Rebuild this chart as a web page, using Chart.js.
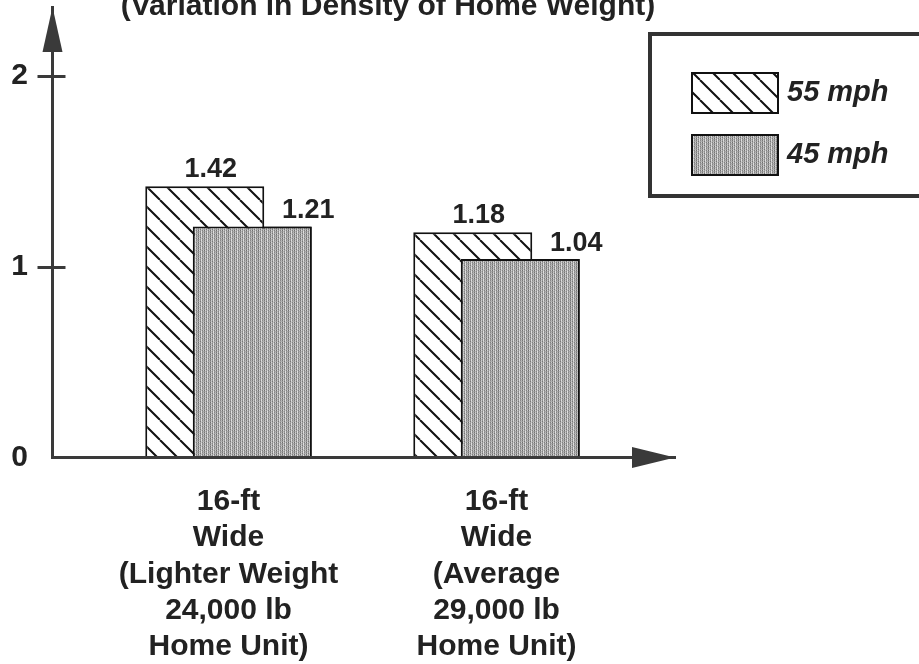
<!DOCTYPE html>
<html>
<head>
<meta charset="utf-8">
<script src="https://cdn.jsdelivr.net/npm/chart.js@4.4.1/dist/chart.umd.min.js"></script>
<style>
  html, body { margin: 0; padding: 0; background: #fff; }
  #wrap { position: relative; width: 919px; height: 664px; }
</style>
</head>
<body>
<div id="wrap"><canvas id="density"></canvas></div>
<script>
// data
const categories = [
  ['16-ft', 'Wide', '(Lighter Weight', '24,000 lb', 'Home Unit)'],
  ['16-ft', 'Wide', '(Average', '29,000 lb', 'Home Unit)']
];
const seriesLabels = ['55 mph', '45 mph'];
const speed55 = [1.42, 1.18];
const speed45 = [1.21, 1.04];
const yTicks = [0, 1, 2];
const titleText = '(Variation in Density of Home Weight)';

const FONT = '"Liberation Sans", Arial, sans-serif';
const INK = '#222';
const AXIS = '#3a3a3a';

var canvas = document.getElementById('density');
var ctx = canvas.getContext('2d');

// diagonal hatch for the 55 mph bars
function makeHatch() {
  var s = 20;
  var c = document.createElement('canvas');
  c.width = s; c.height = s;
  var g = c.getContext('2d');
  g.fillStyle = '#fff';
  g.fillRect(0, 0, s, s);
  g.strokeStyle = '#111';
  g.lineWidth = 2;
  g.beginPath();
  for (var k = -1; k <= 1; k++) {
    g.moveTo(k * s, 0);
    g.lineTo(k * s + s, s);
  }
  g.stroke();
  return ctx.createPattern(c, 'repeat');
}

// grainy vertical gray for the 45 mph bars
function makeStipple() {
  var shades = [
    [120, 205, 150, 222, 135, 186],
    [152, 190, 118, 210, 166, 174],
    [110, 214, 160, 196, 128, 202],
    [142, 180, 136, 226, 150, 168]
  ];
  var c = document.createElement('canvas');
  c.width = shades[0].length; c.height = shades.length;
  var g = c.getContext('2d');
  shades.forEach(function (row, y) {
    row.forEach(function (v, x) {
      g.fillStyle = 'rgb(' + v + ',' + v + ',' + v + ')';
      g.fillRect(x, y, 1, 1);
    });
  });
  return ctx.createPattern(c, 'repeat');
}

var hatch = makeHatch();
var stipple = makeStipple();

// bar value labels: x shift and lift per series
var labelShift = [6, 56];
var labelLift = [9, 8];

var frame = {
  id: 'frame',
  afterDatasetsDraw(chart) {
    var c = chart.ctx;
    // the 45 mph bars sit in front of the 55 mph ones
    chart.getDatasetMeta(1).controller.draw();

    c.save();
    c.fillStyle = INK;
    c.font = 'bold 27px ' + FONT;
    c.textAlign = 'center';
    c.textBaseline = 'alphabetic';
    chart.data.datasets.forEach(function (ds, di) {
      chart.getDatasetMeta(di).data.forEach(function (bar, i) {
        c.fillText(ds.data[i].y.toFixed(2), bar.x + labelShift[di], bar.y - labelLift[di]);
      });
    });
    c.restore();
  },
  afterDraw(chart) {
    var c = chart.ctx;
    var area = chart.chartArea;
    var ys = chart.scales.y;
    var x0 = area.left + 0.5;
    var y0 = ys.getPixelForValue(0);

    c.save();
    c.fillStyle = AXIS;
    c.strokeStyle = AXIS;

    // y arrow
    c.beginPath();
    c.moveTo(x0, area.top);
    c.lineTo(x0 + 10, area.top + 45);
    c.lineTo(x0 - 10, area.top + 45);
    c.closePath();
    c.fill();

    // x arrow
    c.beginPath();
    c.moveTo(area.right, y0);
    c.lineTo(area.right - 43, y0 - 10.5);
    c.lineTo(area.right - 43, y0 + 10.5);
    c.closePath();
    c.fill();

    // tick crosses on the y axis
    c.lineWidth = 3;
    yTicks.filter(function (v) { return v > 0; }).forEach(function (v) {
      var py = Math.round(ys.getPixelForValue(v)) + 0.5;
      c.beginPath();
      c.moveTo(x0 - 15, py);
      c.lineTo(x0 + 13, py);
      c.stroke();
    });

    // title, cut by the top edge
    c.fillStyle = INK;
    c.font = 'bold 30px ' + FONT;
    c.textAlign = 'center';
    c.textBaseline = 'alphabetic';
    c.fillText(titleText, 388, 15);

    // legend box
    c.lineWidth = 4;
    c.strokeStyle = '#333';
    c.strokeRect(650, 34, 300, 162);
    c.font = 'italic bold 29px ' + FONT;
    c.textAlign = 'left';
    c.textBaseline = 'middle';
    chart.data.datasets.forEach(function (ds, di) {
      var top = 73 + di * 62;
      c.fillStyle = ds.backgroundColor;
      c.fillRect(692, top, 86, 40);
      c.lineWidth = 2;
      c.strokeStyle = '#111';
      c.strokeRect(692, top, 86, 40);
      c.fillStyle = INK;
      c.fillText(ds.label, 787, top + 20);
    });
    c.restore();
  }
};

var chart = new Chart(ctx, {
  type: 'bar',
  data: {
    datasets: [
      {
        label: seriesLabels[0],
        data: speed55.map(function (v, i) { return { x: i, y: v }; }),
        backgroundColor: hatch,
        borderColor: '#111',
        borderWidth: 2,
        borderSkipped: 'bottom'
      },
      {
        label: seriesLabels[1],
        data: speed45.map(function (v, i) { return { x: i, y: v }; }),
        backgroundColor: stipple,
        borderColor: '#111',
        borderWidth: 2,
        borderSkipped: 'bottom'
      }
    ]
  },
  options: {
    responsive: true,
    maintainAspectRatio: false,
    animation: false,
    devicePixelRatio: 1,
    categoryPercentage: 0.3545,
    barPercentage: 2.505,
    layout: { padding: { top: 7, right: 244, bottom: 0, left: 0 } },
    plugins: {
      legend: { display: false },
      tooltip: { enabled: false },
      title: { display: false }
    },
    scales: {
      x: {
        type: 'linear',
        offset: false,
        min: -0.6586,
        max: 1.666,
        afterBuildTicks: function (s) { s.ticks = categories.map(function (c, i) { return { value: i }; }); },
        afterFit: function (s) {
          s.height = 206.5;
          s.paddingLeft = 0;
          s.paddingRight = 0;
        },
        grid: { display: false, drawTicks: false, offset: false },
        border: { display: true, color: AXIS, width: 3, z: 1 },
        ticks: {
          padding: 26,
          color: INK,
          maxRotation: 0,
          autoSkip: false,
          font: { family: FONT, size: 30, weight: 'bold', lineHeight: 1.21 },
          callback: function (v) { return categories[v]; }
        }
      },
      y: {
        min: 0,
        max: 2.359,
        afterBuildTicks: function (s) { s.ticks = yTicks.map(function (v) { return { value: v }; }); },
        afterFit: function (s) {
          s.width = 52;
          s.paddingTop = 0;
          s.paddingBottom = 0;
        },
        grid: { display: false, drawTicks: false },
        border: { display: true, color: AXIS, width: 3, z: 1 },
        ticks: {
          padding: 24,
          color: INK,
          font: { family: FONT, size: 30, weight: 'bold' },
          callback: function (v) { return String(v); }
        }
      }
    }
  },
  plugins: [frame]
});
</script>
</body>
</html>
